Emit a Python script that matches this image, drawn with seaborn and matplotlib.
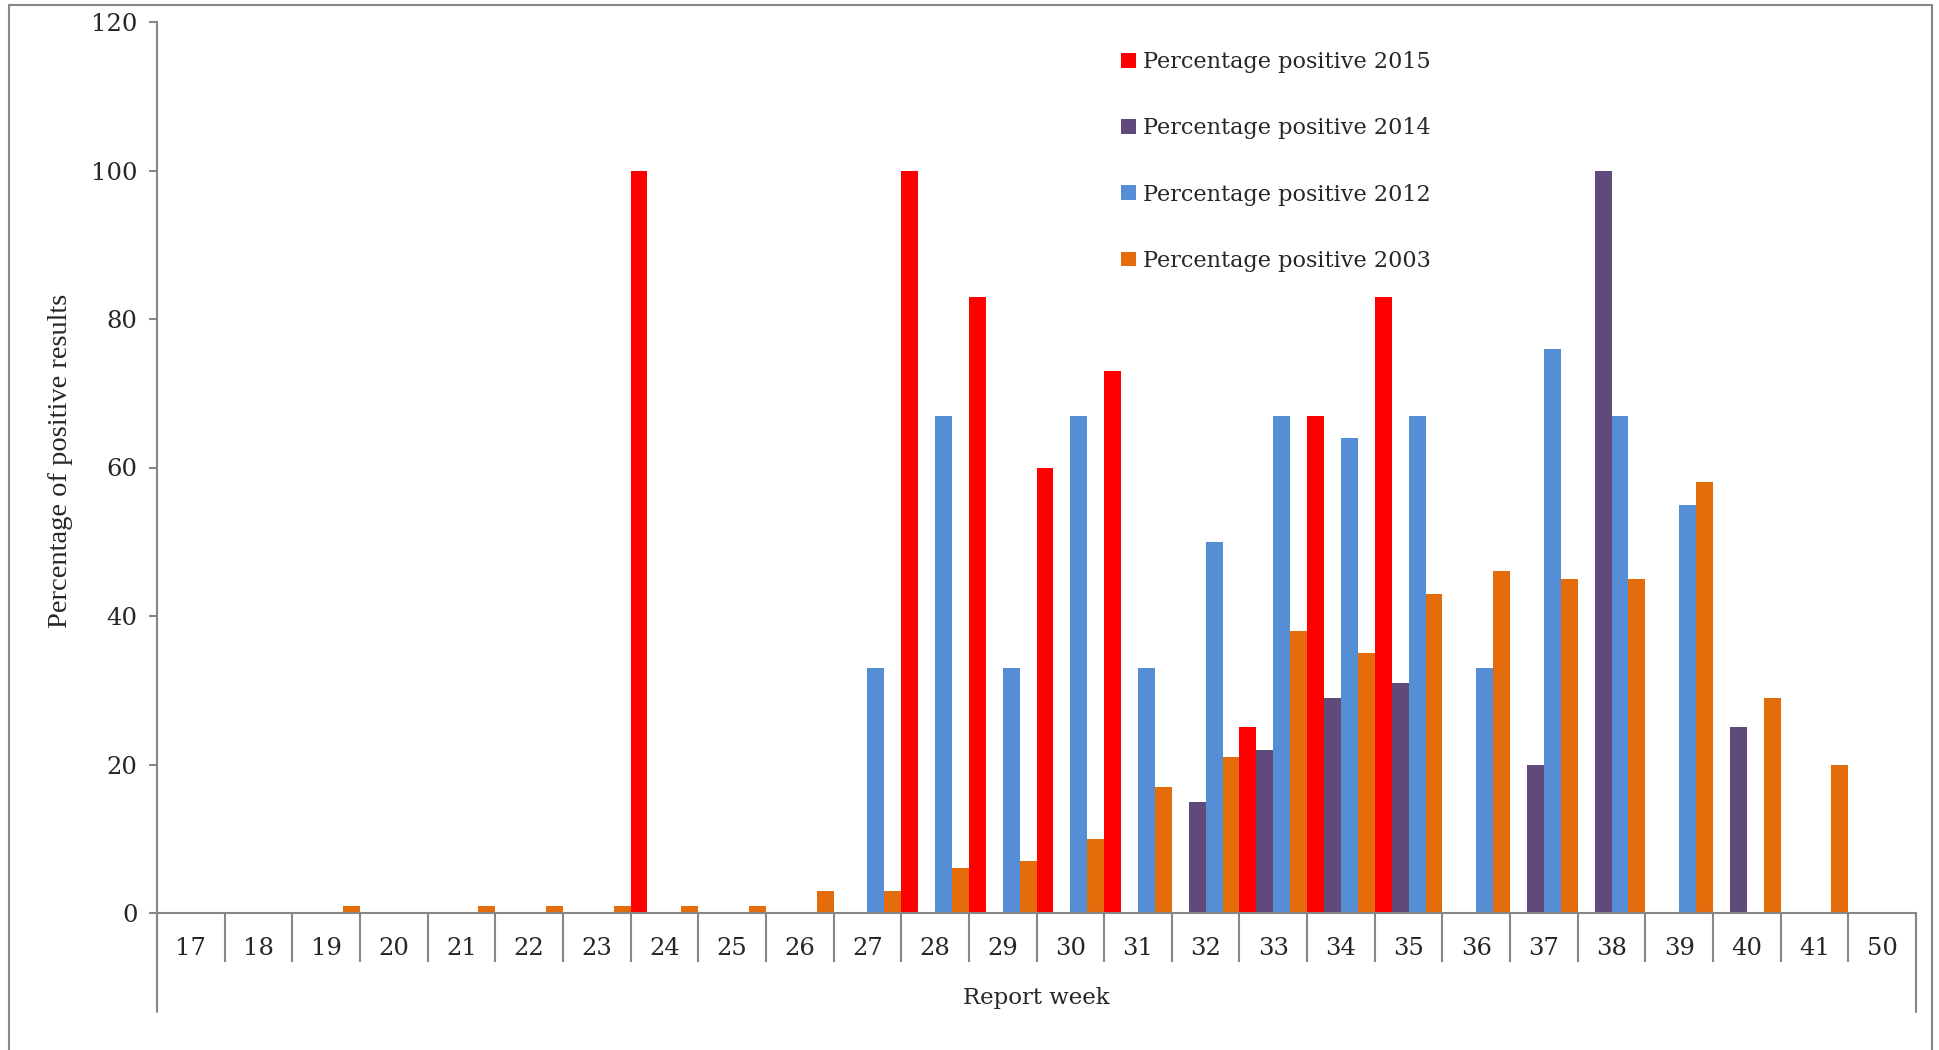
import numpy as np
import pandas as pd
import matplotlib
matplotlib.use("Agg")
import matplotlib.pyplot as plt
import seaborn as sns
from matplotlib.patches import Rectangle

# data (0 = no bar)
weeks = ['17', '18', '19', '20', '21', '22', '23', '24', '25', '26', '27', '28', '29',
         '30', '31', '32', '33', '34', '35', '36', '37', '38', '39', '40', '41', '50']
p2015 = [0, 0, 0, 0, 0, 0, 0, 100, 0, 0, 0, 100, 83, 60, 73, 0, 25, 67, 83, 0, 0, 0, 0, 0, 0, 0]
p2014 = [0, 0, 0, 0, 0, 0, 0, 0, 0, 0, 0, 0, 0, 0, 0, 15, 22, 29, 31, 0, 20, 100, 0, 25, 0, 0]
p2012 = [0, 0, 0, 0, 0, 0, 0, 0, 0, 0, 33, 67, 33, 67, 33, 50, 67, 64, 67, 33, 76, 67, 55, 0, 0, 0]
p2003 = [0, 0, 1, 0, 1, 1, 1, 1, 1, 3, 3, 6, 7, 10, 17, 21, 38, 35, 43, 46, 45, 45, 58, 29, 20, 0]

series_names = ['Percentage positive 2015', 'Percentage positive 2014',
                'Percentage positive 2012', 'Percentage positive 2003']
colors = ['#FF0000', '#604A7B', '#558ED5', '#E46C0A']

df = pd.DataFrame({'week': weeks, series_names[0]: p2015, series_names[1]: p2014,
                   series_names[2]: p2012, series_names[3]: p2003})
long = df.melt(id_vars='week', var_name='series', value_name='pct')

sns.set_style('white')
plt.rcParams['font.family'] = ['DejaVu Serif']

W, H = 1939, 1050
fig = plt.figure(figsize=(W / 100, H / 100), dpi=100)
x0, x1, y0, y1 = 157, 1916, 22, 913
ax = fig.add_axes([x0 / W, 1 - y1 / H, (x1 - x0) / W, (y1 - y0) / H])

sns.barplot(data=long, x='week', y='pct', hue='series', hue_order=series_names,
            order=weeks, palette=colors, width=1.0, gap=0, linewidth=0,
            saturation=1, ax=ax, errorbar=None)

grey = '#868686'
ax.set_ylim(0, 120)
ax.set_xlim(-0.5, len(weeks) - 0.5)
ax.set_yticks(np.arange(0, 121, 20))
for s in ['top', 'right']:
    ax.spines[s].set_visible(False)
for s in ['left', 'bottom']:
    ax.spines[s].set_color(grey)
    ax.spines[s].set_linewidth(1.5)

ax.tick_params(axis='y', which='major', left=True, length=6, width=1.5, color=grey,
               labelsize=17.5, pad=8, direction='out')
ax.tick_params(axis='x', which='major', length=0, labelsize=17.5, pad=17)
# category dividers below the axis
ax.set_xticks(np.arange(len(weeks) + 1) - 0.5, minor=True)
ax.tick_params(axis='x', which='minor', bottom=True, length=35, width=1.5, color=grey,
               direction='out')
tr = ax.get_xaxis_transform()
drop = -99 / (y1 - y0)
ax.plot([-0.5, -0.5], [0, drop], color=grey, lw=1.5, transform=tr, clip_on=False)
ax.plot([len(weeks) - 0.5] * 2, [0, drop], color=grey, lw=1.5, transform=tr, clip_on=False)

ax.set_xlabel('Report week', fontsize=16.5, labelpad=15)
ax.set_ylabel('Percentage of positive results', fontsize=20.5, labelpad=11,
              family=['Liberation Serif'])
ax.yaxis.set_label_coords(-0.0475, 0.507)

handles, labels = ax.get_legend_handles_labels()
ax.legend(handles, labels, loc='upper left', bbox_to_anchor=(1121 / W, 1 - 51 / H),
          bbox_transform=fig.transFigure, frameon=False, fontsize=16.1,
          handlelength=0.65, handleheight=0.65, handletextpad=0.35,
          labelspacing=1.98, borderpad=0, borderaxespad=0)

# outer chart border
fig.patches.append(Rectangle((9 / W, -0.05), (1932 - 9) / W, 1 - 5 / H + 0.05,
                             transform=fig.transFigure, fill=False,
                             edgecolor=grey, lw=1.5))

fig.savefig('out.png', dpi=100)
